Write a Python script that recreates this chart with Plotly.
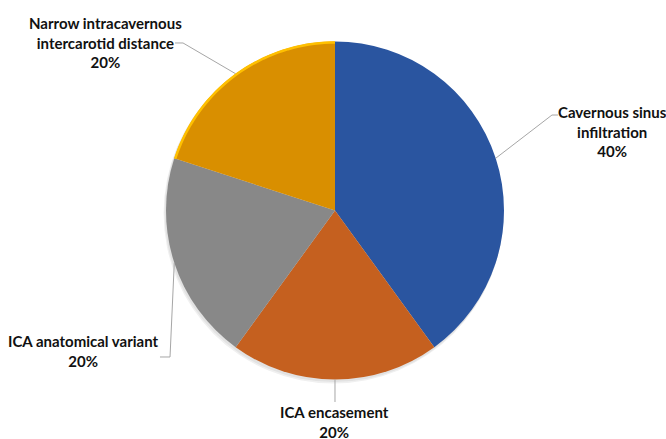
import math
import plotly.graph_objects as go

# Data
categories = [
    "Cavernous sinus infiltration",
    "ICA encasement",
    "ICA anatomical variant",
    "Narrow intracavernous intercarotid distance",
]
shares = [40, 20, 20, 20]
label_texts = [
    "Cavernous sinus<br>infiltration<br>40%",
    "ICA encasement<br>20%",
    "ICA anatomical variant<br>20%",
    "Narrow intracavernous<br>intercarotid distance<br>20%",
]
colors = ["#2A55A0", "#C5601F", "#888888", "#D98F00"]
rim_colors = [None, None, None, "#FFC000"]

W, H = 666, 439
CX, CY, R = 335, 210.5, 169  # pie centre / radius in pixels

# Label placement (pixel centre of each text block) and leader elbows
label_pos = [(612, 132), (334, 422), (84, 351), (105, 42)]
elbows = [
    [(552, 115), (558, 115)],
    [(335, 402)],
    [(170, 357), (160, 357)],
    [(183, 43), (175, 43)],
]

fig = go.Figure(
    go.Pie(
        labels=categories,
        values=shares,
        sort=False,
        direction="clockwise",
        rotation=0,
        marker=dict(colors=colors, line=dict(width=0)),
        textinfo="none",
        hoverinfo="label+percent",
        showlegend=False,
        domain=dict(
            x=[(CX - R) / W, (CX + R) / W],
            y=[(H - CY - R) / H, (H - CY + R) / H],
        ),
    )
)


def px(x, y):
    return x / W, 1 - y / H


def polar(theta, r=R):
    return CX + r * math.sin(theta), CY - r * math.cos(theta)


# soft drop shadow under the pie
shapes = []
for off, col in [(4, "#F0F0F0"), (2.5, "#E2E2E2")]:
    x0, y1 = px(CX - R - off * 0.6, CY - R + off * 0.4)
    x1, y0 = px(CX + R - off * 0.2, CY + R + off)
    shapes.append(dict(type="circle", xref="paper", yref="paper",
                       x0=x0, x1=x1, y0=y0, y1=y1, layer="below",
                       fillcolor=col, line=dict(width=0)))

total = sum(shares)
start = 0.0
annotations = []
for i, v in enumerate(shares):
    a0 = start / total * 2 * math.pi
    a1 = (start + v) / total * 2 * math.pi
    mid = (a0 + a1) / 2
    start += v
    pts = [polar(mid)] + elbows[i]
    path = "M " + " L ".join(
        "{:.4f},{:.4f}".format(*px(x, y)) for x, y in pts
    )
    shapes.append(
        dict(type="path", path=path, xref="paper", yref="paper",
             line=dict(color="#A6A6A6", width=1))
    )
    if rim_colors[i]:
        n = 40
        arc = [px(*polar(a0 + (a1 - a0) * k / n, R - 1)) for k in range(n + 1)]
        shapes.append(
            dict(type="path", xref="paper", yref="paper",
                 path="M " + " L ".join("{:.5f},{:.5f}".format(*p) for p in arc),
                 line=dict(color=rim_colors[i], width=2.5))
        )
    lx, ly = px(*label_pos[i])
    annotations.append(
        dict(text="<b>" + label_texts[i] + "</b>", x=lx, y=ly,
             xref="paper", yref="paper", xanchor="center", yanchor="middle",
             showarrow=False, align="center",
             font=dict(family="Lato", size=15, color="#111111"))
    )

fig.update_layout(
    width=W,
    height=H,
    margin=dict(l=0, r=0, t=0, b=0),
    paper_bgcolor="white",
    plot_bgcolor="white",
    shapes=shapes,
    annotations=annotations,
)

fig.write_html("out.html")
